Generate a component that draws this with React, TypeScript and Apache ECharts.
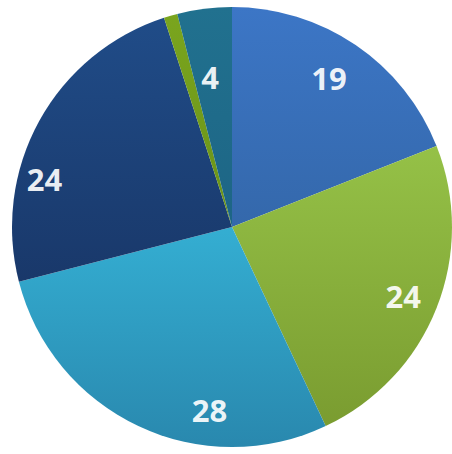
import React, { useEffect, useRef } from "react";
import * as echarts from "echarts";

const categories = ["A", "B", "C", "D", "E", "F"];
const values = [19, 24, 28, 24, 1, 4];
const labelShown = [true, true, true, true, false, true];
// colours: [top, bottom] of each slice's vertical gradient
const sliceColors: [string, string][] = [
  ["#3c76c6", "#3468ab"],
  ["#95c147", "#7a9c30"],
  ["#34aed2", "#2988ae"],
  ["#204c88", "#19386a"],
  ["#7aa51e", "#6a9218"],
  ["#21718f", "#1d6585"],
];
// label placement: [angle in degrees clockwise from 12 o'clock, fraction of radius]
const labelPolar: [number, number][] = [
  [33, 0.81],
  [112, 0.84],
  [187, 0.84],
  [284.5, 0.88],
  [0, 0],
  [351.7, 0.69],
];

const CX = 232;
const CY = 227;
const R = 220;

export default function App() {
  const ref = useRef<HTMLDivElement>(null);
  useEffect(() => {
    if (!ref.current) return;
    const chart = echarts.init(ref.current, undefined, { renderer: "svg" });
    chart.setOption({
      animation: false,
      backgroundColor: "#ffffff",
      series: [
        {
          type: "pie",
          center: [CX, CY],
          radius: [0, R],
          startAngle: 90,
          clockwise: true,
          avoidLabelOverlap: false,
          label: {
            show: true,
            position: "inside",
            formatter: "{c}",
            color: "rgba(255,255,255,0.92)",
            fontFamily: "Open Sans",
            fontWeight: "bold",
            fontSize: 31,
          },
          labelLine: { show: false },
          itemStyle: { borderWidth: 0 },
          emphasis: { disabled: true },
          labelLayout: (p: any) => {
            const [a, f] = labelPolar[p.dataIndex];
            const rad = (a * Math.PI) / 180;
            return {
              x: CX + Math.sin(rad) * R * f,
              y: CY - Math.cos(rad) * R * f,
              align: "center",
              verticalAlign: "middle",
            };
          },
          data: categories.map((name, i) => ({
            name,
            value: values[i],
            label: { show: labelShown[i] },
            itemStyle: {
              color: new echarts.graphic.LinearGradient(0, 0, 0, 1, [
                { offset: 0, color: sliceColors[i][0] },
                { offset: 1, color: sliceColors[i][1] },
              ]),
            },
          })),
        },
      ],
    });
    return () => chart.dispose();
  }, []);
  return (
    <div
      ref={ref}
      style={{ position: "fixed", left: 0, top: 0, width: 452, height: 454 }}
    />
  );
}
